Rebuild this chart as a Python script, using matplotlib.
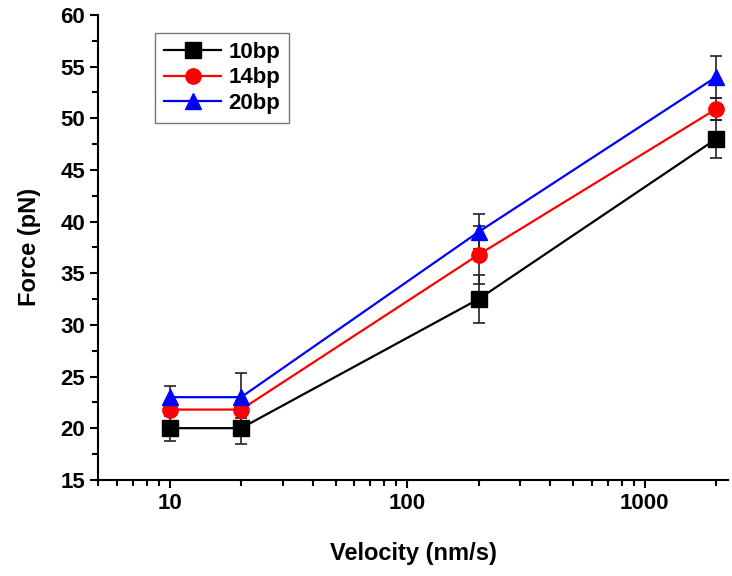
import matplotlib.pyplot as plt
from matplotlib.lines import Line2D
import numpy as np

plt.rcParams['font.family'] = ['Liberation Sans', 'DejaVu Sans']
plt.rcParams['font.weight'] = 'bold'

velocity = [10, 20, 200, 2000]
labels = ['10bp', '14bp', '20bp']
force_10bp = [20.0, 20.0, 32.5, 48.0]
force_14bp = [21.8, 21.8, 36.8, 50.9]
force_20bp = [23.0, 23.0, 39.0, 54.0]
err_10bp = [1.2, 1.5, 2.3, 1.8]
err_14bp = [0.6, 0.8, 2.8, 1.1]
err_20bp = [1.1, 2.3, 1.7, 2.0]

colors = ['black', 'red', 'blue']
markers = ['s', 'o', '^']

fig = plt.figure(figsize=(7.32, 5.76), dpi=100)
ax = fig.add_axes([0.134, 0.167, 0.861, 0.807])

handles = []
for ys, es, lab, c, m in zip([force_10bp, force_14bp, force_20bp],
                             [err_10bp, err_14bp, err_20bp],
                             labels, colors, markers):
    ax.errorbar(velocity, ys, yerr=es, color=c, marker=m, markersize=11,
                linewidth=1.6, ecolor='#222222', elinewidth=1.2, capsize=4,
                capthick=1.2)
    handles.append(Line2D([], [], color=c, marker=m, markersize=11,
                          linewidth=1.6, label=lab))

ax.set_xscale('log')
ax.set_xlim(5, 2250)
ax.set_ylim(15, 60)
ax.set_yticks(np.arange(15, 61, 5))
ax.set_yticks(np.arange(17.5, 60, 5), minor=True)
ax.set_xticks([10, 100, 1000])
ax.set_xticklabels(['10', '100', '1000'])

for side in ['top', 'right']:
    ax.spines[side].set_visible(False)
for side in ['left', 'bottom']:
    ax.spines[side].set_linewidth(1.5)

ax.tick_params(which='major', direction='out', length=6, width=1.5, labelsize=16)
ax.tick_params(which='minor', direction='out', length=4, width=1.5)

ax.set_xlabel('Velocity (nm/s)', fontsize=17, fontweight='bold', labelpad=20)
ax.set_ylabel('Force (pN)', fontsize=17, fontweight='bold', labelpad=14)

leg = ax.legend(handles=handles, loc='upper left', bbox_to_anchor=(0.09, 0.961),
                borderaxespad=0, fontsize=16, frameon=True, fancybox=False,
                edgecolor='#555555', handlelength=2.6, borderpad=0.4,
                labelspacing=0.2, handletextpad=0.3)
leg.get_frame().set_linewidth(1.0)

fig.savefig('out.png', dpi=100)
